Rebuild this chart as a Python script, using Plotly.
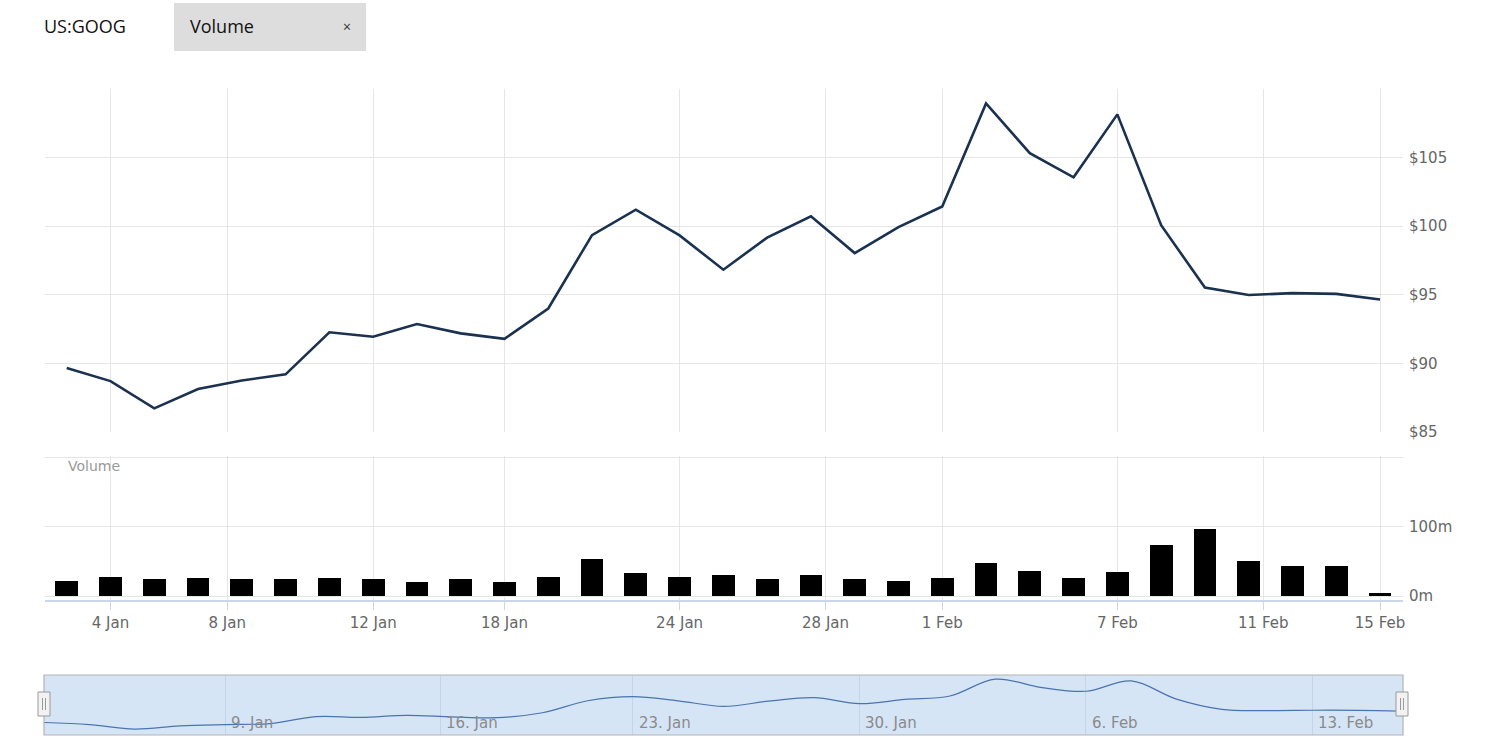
import numpy as np
import pandas as pd
import plotly.graph_objects as go

# ---------------- data ----------------
dates = [
    "2023-01-03", "2023-01-04", "2023-01-05", "2023-01-06",
    "2023-01-09", "2023-01-10", "2023-01-11", "2023-01-12", "2023-01-13",
    "2023-01-17", "2023-01-18", "2023-01-19", "2023-01-20",
    "2023-01-23", "2023-01-24", "2023-01-25", "2023-01-26", "2023-01-27",
    "2023-01-30", "2023-01-31", "2023-02-01", "2023-02-02", "2023-02-03",
    "2023-02-06", "2023-02-07", "2023-02-08", "2023-02-09", "2023-02-10",
    "2023-02-13", "2023-02-14", "2023-02-15",
]
close = [89.66, 88.71, 86.72, 88.13, 88.76, 89.20, 92.27, 91.94, 92.87,
         92.19, 91.79, 94.00, 99.35, 101.20, 99.33, 96.83, 99.17, 100.72,
         98.04, 99.93, 101.44, 108.95, 105.32, 103.56, 108.15, 100.07,
         95.53, 94.98, 95.12, 95.07, 94.66]
volume_m = [21.5, 27.8, 23.9, 26.3, 23.9, 23.9, 26.3, 23.9, 19.6, 23.9,
            19.6, 27.8, 53.6, 32.5, 27.8, 30.6, 23.9, 30.6, 23.9, 21.5,
            26.3, 47.8, 36.8, 26.3, 34.9, 73.7, 96.7, 49.8, 43.5, 43.5, 4.8]

main_tick_dates = ["2023-01-04", "2023-01-08", "2023-01-12", "2023-01-18",
                   "2023-01-24", "2023-01-28", "2023-02-01", "2023-02-07",
                   "2023-02-11", "2023-02-15"]
main_tick_labels = ["4 Jan", "8 Jan", "12 Jan", "18 Jan", "24 Jan",
                    "28 Jan", "1 Feb", "7 Feb", "11 Feb", "15 Feb"]
nav_tick_dates = ["2023-01-09", "2023-01-16", "2023-01-23", "2023-01-30",
                  "2023-02-06", "2023-02-13"]
nav_tick_labels = ["9. Jan", "16. Jan", "23. Jan", "30. Jan", "6. Feb", "13. Feb"]

price_ticks = [85, 90, 95, 100, 105, 110]
price_labels = ["$85", "$90", "$95", "$100", "$105", ""]
volume_ticks = [0, 100, 200]
volume_labels = ["0m", "100m", ""]

symbol = "US:GOOG"
tab_label = "Volume"

# ---------------- ordinal (trading-day) axis ----------------
W, H = 1491, 746
ts = pd.to_datetime(dates).astype("int64").to_numpy()
idx = np.arange(len(dates), dtype=float)


def ordinal_pos(ds):
    t = pd.to_datetime(ds).astype("int64").to_numpy()
    return np.interp(t, ts, idx)


main_tick_pos = ordinal_pos(main_tick_dates)
nav_tick_pos = ordinal_pos(nav_tick_dates)


def px(v):
    return v / W


def py(v):
    return 1 - v / H


FONT = "DejaVu Sans"
GRID = "#e6e6e6"
AXIS = "#ccd6eb"
TICKFONT = dict(family=FONT, size=15, color="#666666")

fig = go.Figure()

fig.add_trace(go.Scatter(
    x=idx, y=close, mode="lines",
    line=dict(color="#1a3150", width=2.6),
    xaxis="x", yaxis="y", showlegend=False, hoverinfo="skip",
))
fig.add_trace(go.Bar(
    x=idx, y=volume_m, width=0.52,
    marker=dict(color="#000000", line=dict(width=0)),
    xaxis="x2", yaxis="y2", showlegend=False, hoverinfo="skip",
))
fig.add_trace(go.Scatter(
    x=idx, y=close, mode="lines",
    line=dict(color="#4a74b0", width=1.2, shape="spline", smoothing=1.0),
    xaxis="x3", yaxis="y3", showlegend=False, hoverinfo="skip",
))

x_range = [-0.496, 30.525]

fig.update_layout(
    width=W, height=H,
    margin=dict(l=0, r=0, t=0, b=0, pad=0, autoexpand=False),
    paper_bgcolor="white",
    plot_bgcolor="rgba(0,0,0,0)",
    showlegend=False,
    bargap=0,
    xaxis=dict(
        domain=[px(45), px(1403)], anchor="y", range=x_range,
        tickvals=main_tick_pos, showticklabels=False, ticks="",
        showgrid=True, gridcolor=GRID, gridwidth=1,
        zeroline=False, showline=False, fixedrange=True, automargin=False,
    ),
    yaxis=dict(
        domain=[py(432), py(89)], anchor="x", range=[85, 110],
        side="right", tickvals=price_ticks, ticktext=price_labels,
        tickfont=TICKFONT, ticks="", ticklabelstandoff=5,
        showgrid=True, gridcolor=GRID, gridwidth=1,
        zeroline=False, showline=False, fixedrange=True, automargin=False,
    ),
    xaxis2=dict(
        domain=[px(45), px(1403)], anchor="y2", range=x_range,
        tickvals=main_tick_pos, ticktext=main_tick_labels,
        tickfont=TICKFONT, ticks="outside", ticklen=8, tickcolor=AXIS,
        tickwidth=1,
        showgrid=True, gridcolor=GRID, gridwidth=1,
        showline=True, linecolor=AXIS, linewidth=1.5,
        zeroline=False, fixedrange=True, automargin=False,
    ),
    yaxis2=dict(
        domain=[py(600), py(456)], anchor="x2", range=[-5.77, 202],
        side="right", tickvals=volume_ticks, ticktext=volume_labels,
        tickfont=TICKFONT, ticks="", ticklabelstandoff=5,
        showgrid=True, gridcolor=GRID, gridwidth=1,
        zeroline=False, showline=False, fixedrange=True, automargin=False,
    ),
    xaxis3=dict(
        domain=[px(44), px(1403)], anchor="y3", range=[0, 30],
        tickvals=nav_tick_pos, showticklabels=False, ticks="",
        showgrid=True, gridcolor="#c5d4e6", gridwidth=1,
        zeroline=False, showline=False, fixedrange=True, automargin=False,
    ),
    yaxis3=dict(
        domain=[py(735), py(675)], anchor="x3", range=[84.1, 110.8],
        showgrid=False, showticklabels=False, ticks="",
        zeroline=False, showline=False, fixedrange=True, automargin=False,
    ),
)

shapes = [
    # navigator selected area (full range)
    dict(type="rect", xref="x3 domain", yref="y3 domain", x0=0, x1=1, y0=0, y1=1,
         fillcolor="#d6e5f6", line=dict(width=0), layer="below"),
    dict(type="rect", xref="x3 domain", yref="y3 domain", x0=0, x1=1, y0=0, y1=1,
         fillcolor="rgba(0,0,0,0)", line=dict(color="#b3b3b3", width=1.2), layer="above"),
    # header tab box
    dict(type="rect", xref="paper", yref="paper", x0=px(174), x1=px(366),
         y0=py(51), y1=py(3), fillcolor="#dddddd", line=dict(width=0), layer="below"),
]
# navigator handles
for cx in (44, 1402):
    shapes.append(dict(type="rect", xref="paper", yref="paper",
                       x0=px(cx - 6), x1=px(cx + 6), y0=py(716), y1=py(692),
                       fillcolor="#f2f2f2", line=dict(color="#999999", width=1), layer="above"))
    for dx in (-1.5, 1.5):
        shapes.append(dict(type="line", xref="paper", yref="paper",
                           x0=px(cx + dx), x1=px(cx + dx), y0=py(710), y1=py(698),
                           line=dict(color="#999999", width=1), layer="above"))
fig.update_layout(shapes=shapes)

annotations = [
    dict(text=symbol, xref="paper", yref="paper", x=px(42), y=py(26),
         xanchor="left", yanchor="middle", showarrow=False,
         font=dict(family="Open Sans", size=18, color="#111111")),
    dict(text=tab_label, xref="paper", yref="paper", x=px(188), y=py(26),
         xanchor="left", yanchor="middle", showarrow=False,
         font=dict(family="Open Sans", size=18, color="#111111")),
    dict(text="×", xref="paper", yref="paper", x=px(347), y=py(26),
         xanchor="center", yanchor="middle", showarrow=False,
         font=dict(family="Open Sans", size=14, color="#333333")),
    dict(text=tab_label, xref="paper", yref="paper", x=px(66), y=py(466),
         xanchor="left", yanchor="middle", showarrow=False,
         font=dict(family=FONT, size=14, color="#999999")),
]
for pos, lab in zip(nav_tick_pos, nav_tick_labels):
    annotations.append(dict(text=lab, xref="x3", yref="paper", x=pos, y=py(723),
                            xanchor="left", yanchor="middle", xshift=4, showarrow=False,
                            font=dict(family=FONT, size=15, color="#8a8a8a")))
fig.update_layout(annotations=annotations)

fig.write_html(
    "out.html",
    config={"displayModeBar": False},
    post_script="document.body.style.margin='0';document.body.style.overflow='hidden';",
)
